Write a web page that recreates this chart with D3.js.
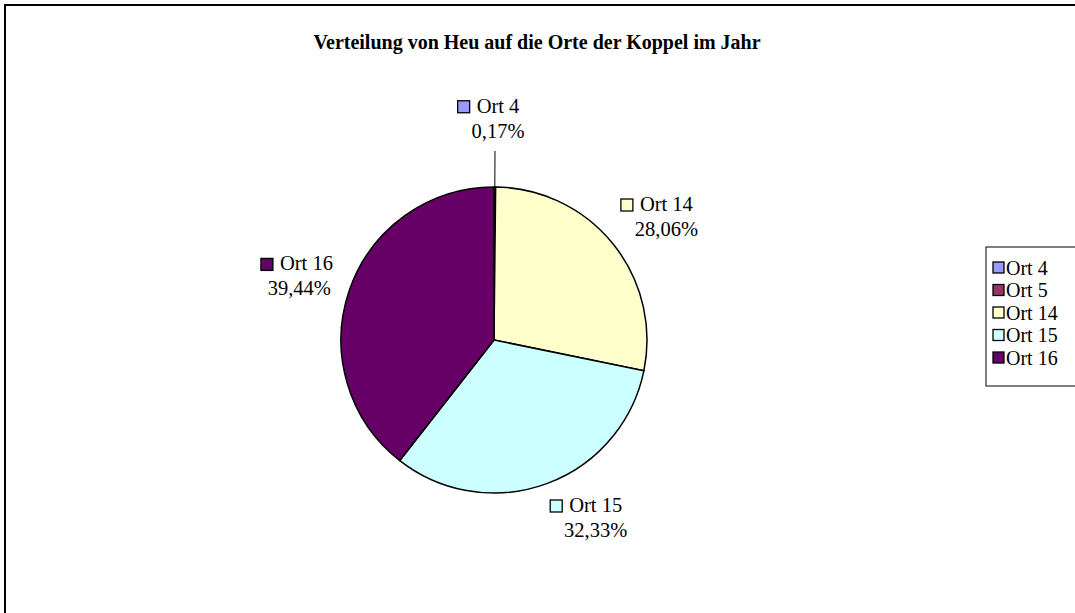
<!DOCTYPE html>
<html>
<head>
<meta charset="utf-8">
<script src="https://cdn.jsdelivr.net/npm/d3@7"></script>
<style>
  body { margin: 0; background: #fff; }
</style>
</head>
<body>
<div id="chart"></div>
<script>
// data
var categories = ["Ort 4", "Ort 5", "Ort 14", "Ort 15", "Ort 16"];
var values = [0.17, 0, 28.06, 32.33, 39.44];
var colors = ["#9999FF", "#993366", "#FFFFCC", "#CCFFFF", "#660066"];
var title = "Verteilung von Heu auf die Orte der Koppel im Jahr";

var serif = "'Liberation Serif', 'Times New Roman', serif";

var width = 1075,
    height = 613;

var svg = d3.select("#chart").append("svg")
    .attr("width", width)
    .attr("height", height);

svg.append("rect")
    .attr("width", width)
    .attr("height", height)
    .attr("fill", "#fff");

// outer frame (runs off the right and bottom)
svg.append("rect")
    .attr("x", 5)
    .attr("y", 5)
    .attr("width", width + 20)
    .attr("height", height + 20)
    .attr("fill", "none")
    .attr("stroke", "#000")
    .attr("stroke-width", 2);

svg.append("text")
    .text(title)
    .attr("x", 537)
    .attr("y", 49)
    .attr("text-anchor", "middle")
    .attr("font-family", serif)
    .attr("font-size", "20px")
    .attr("font-weight", "bold");

var cx = 494, cy = 340, r = 153;

var color = d3.scaleOrdinal().domain(categories).range(colors);

var data = categories.map(function(c, i) { return {name: c, value: values[i]}; });

var pie = d3.pie()
    .sort(null)
    .value(function(d) { return d.value; });

var arcs = pie(data);

var arc = d3.arc().innerRadius(0).outerRadius(r);

var g = svg.append("g").attr("transform", "translate(" + cx + "," + cy + ")");

g.selectAll("path.slice")
    .data(arcs)
    .enter()
    .append("path")
    .attr("class", "slice")
    .attr("d", arc)
    .attr("fill", function(d) { return color(d.data.name); })
    .attr("stroke", "#000")
    .attr("stroke-width", 1.5)
    .attr("stroke-linejoin", "round");

// labels
var fontSize = 20.5, lineGap = 25, sq = 12, gap = 7;
var leader = {"Ort 4": 25};   // small slice gets pulled out with a line

arcs.forEach(function(d) {
  if (d.data.value <= 0) return;
  var a = (d.startAngle + d.endAngle) / 2;
  var s = Math.sin(a), c = Math.cos(a);
  var extra = leader[d.data.name] || 0;
  var ax = (r + 10 + extra) * s,
      ay = -(r + 10 + extra) * c;

  var lg = g.append("g");
  var t1 = lg.append("text")
      .text(d.data.name)
      .attr("font-family", serif)
      .attr("font-size", fontSize + "px");
  var t2 = lg.append("text")
      .text(d.data.value.toFixed(2).replace(".", ",") + "%")
      .attr("font-family", serif)
      .attr("font-size", fontSize + "px");
  var tw = t1.node().getComputedTextLength();
  var h = lineGap + 20;

  // x where the name text starts
  var nx;
  if (Math.abs(s) < 0.2) nx = ax + 3 - tw / 2;
  else if (s > 0) nx = ax + sq + gap;
  else nx = ax - 7 - tw;
  var by = ay - c * h / 2 * (c > 0 ? 1.5 : 1.16);
  var top = by - h / 2;

  lg.append("rect")
      .attr("x", nx - gap - sq)
      .attr("y", top + 16 - sq + 1)
      .attr("width", sq)
      .attr("height", sq)
      .attr("fill", color(d.data.name))
      .attr("stroke", "#000")
      .attr("stroke-width", 1.3);
  t1.attr("x", nx).attr("y", top + 17);
  if (s < -0.2) {
    t2.attr("x", nx + tw - 2).attr("text-anchor", "end");
  } else {
    t2.attr("x", nx + tw / 2).attr("text-anchor", "middle");
  }
  t2.attr("y", top + 17 + lineGap);

  if (extra) {
    g.append("line")
        .attr("x1", r * s).attr("y1", -r * c)
        .attr("x2", (r + extra + 11) * s).attr("y2", -(r + extra + 11) * c)
        .attr("stroke", "#000")
        .attr("stroke-width", 1);
  }
});

// legend
var lx = 986, ly = 247, step = 22.5;
svg.append("rect")
    .attr("x", lx)
    .attr("y", ly)
    .attr("width", 120)
    .attr("height", 139)
    .attr("fill", "#fff")
    .attr("stroke", "#000")
    .attr("stroke-width", 1);

var items = svg.selectAll("g.leg")
    .data(categories)
    .enter()
    .append("g")
    .attr("class", "leg")
    .attr("transform", function(d, i) { return "translate(" + lx + "," + (ly + 21 + i * step) + ")"; });

items.append("rect")
    .attr("x", 7)
    .attr("y", -6)
    .attr("width", 11)
    .attr("height", 11)
    .attr("fill", function(d) { return color(d); })
    .attr("stroke", "#000")
    .attr("stroke-width", 1.3);

items.append("text")
    .text(function(d) { return d; })
    .attr("x", 20)
    .attr("y", 6.5)
    .attr("font-family", serif)
    .attr("font-size", "20px");
</script>
</body>
</html>
